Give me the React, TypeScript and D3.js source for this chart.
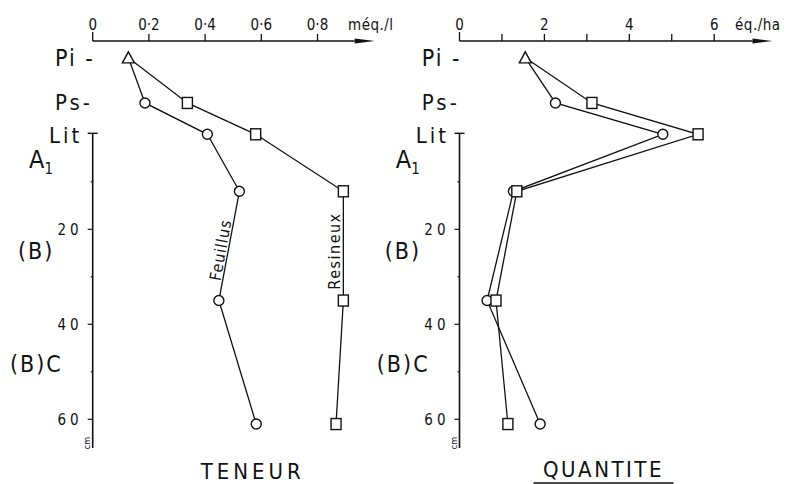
import React from "react";
import * as d3 from "d3";

// ---- data ----
const levels: (string | number)[] = ["Pi", "Ps", 0, 12, 35, 61];
const organicDepth = ["Pi", "Ps"];
const organicOffsets = [-16.1, -6.6]; // pseudo-depths (cm above litter surface)

const feuillusTeneur = [0.127, 0.186, 0.408, 0.522, 0.449, 0.582];
const resineuxTeneur = [0.127, 0.337, 0.58, 0.892, 0.892, 0.866];
const feuillusQuantite = [1.55, 2.26, 4.79, 1.27, 0.65, 1.9];
const resineuxQuantite = [1.55, 3.12, 5.62, 1.35, 0.86, 1.14];

const teneurTicks = [0, 0.2, 0.4, 0.6, 0.8];
const teneurTickLabels = ["0", "0·2", "0·4", "0·6", "0·8"];
const quantiteTicks = [0, 1, 2, 3, 4, 5, 6];
const quantiteTickLabels = ["0", "", "2", "", "4", "", "6"];
const depthTicks = [10, 20, 30, 40, 50, 60];
const depthTickLabels = ["", "20", "", "40", "", "60"];
const horizonLabels = ["Pi -", "Ps-", "Lit", "A", "(B)", "(B)C"];

const FONT = "'DejaVu Sans Condensed', 'Liberation Sans Narrow', 'Liberation Sans', sans-serif";

const yDepth = d3.scaleLinear().domain([0, 60]).range([134.3, 419.3]);
const organic = d3.scaleOrdinal<string, number>().domain(organicDepth).range(organicOffsets);
const yOf = (l: string | number) => (typeof l === "string" ? yDepth(organic(l)) : yDepth(l));

type PanelProps = {
  ox: number;
  x: d3.ScaleLinear<number, number>;
  ticks: number[];
  tickLabels: string[];
  unit: string;
  axisLen: number;
  unitX: number;
  series: number[][];
  title: string;
  underline?: boolean;
  curveLabels?: boolean;
};

function Panel({ ox, x, ticks, tickLabels, unit, axisLen, unitX, series, title, underline, curveLabels }: PanelProps) {
  const x0 = x(0);
  const axisY = 41;
  const axisEnd = ox + axisLen;
  const arrowEnd = axisEnd + 20;
  const line = d3
    .line<number>()
    .x((v) => x(v))
    .y((_, i) => yOf(levels[i]));
  const dOff = ox - 92.7;
  return (
    <g>
      {/* top axis */}
      <line x1={x0} x2={axisEnd} y1={axisY} y2={axisY} stroke="#111" strokeWidth={1.4} />
      <path d={`M${axisEnd},${axisY - 2.5} L${arrowEnd},${axisY} L${axisEnd},${axisY + 2.5} Z`} fill="#111" />
      {ticks.map((t, i) => (
        <g key={i}>
          <line x1={x(t)} x2={x(t)} y1={axisY - (i === 0 ? 9 : 7)} y2={axisY} stroke="#111" strokeWidth={1.3} />
          {tickLabels[i] && (
            <text x={x(t)} y={30} textAnchor="middle" fontSize={15} fontFamily={FONT} fill="#111">
              {tickLabels[i]}
            </text>
          )}
        </g>
      ))}
      <text x={unitX} y={30} fontSize={15} fontFamily={FONT} fill="#111" letterSpacing={0.5}>
        {unit}
      </text>
      {/* depth axis */}
      <line x1={x0} x2={x0} y1={yDepth(0) - 1} y2={448} stroke="#111" strokeWidth={1.6} />
      <line x1={x0 - 5} x2={x0 + 5} y1={yDepth(0) - 1} y2={yDepth(0) - 1} stroke="#111" strokeWidth={1.4} />
      {depthTicks.map((t, i) => (
        <g key={t}>
          <line x1={x0 - (depthTickLabels[i] ? 5 : 2)} x2={x0} y1={yDepth(t)} y2={yDepth(t)} stroke="#111" strokeWidth={1.2} />
          {depthTickLabels[i] && (
            <text x={x0 - 10} y={yDepth(t) + 6} textAnchor="end" fontSize={15} fontFamily={FONT} fill="#111" letterSpacing={4}>
              {depthTickLabels[i]}
            </text>
          )}
        </g>
      ))}
      <text
        transform={`translate(${x0 - 3},${443}) rotate(-90)`}
        textAnchor="middle"
        fontSize={9}
        fontFamily={FONT}
        fill="#111"
      >
        cm
      </text>
      {/* horizon labels */}
      <text x={55 + dOff} y={66} fontSize={23} fontFamily={FONT} fill="#111" letterSpacing={2}>
        {horizonLabels[0]}
      </text>
      <text x={55 + dOff} y={110} fontSize={22} fontFamily={FONT} fill="#111" letterSpacing={3}>
        {horizonLabels[1]}
      </text>
      <text x={49 + dOff} y={143} fontSize={22} fontFamily={FONT} fill="#111" letterSpacing={3}>
        {horizonLabels[2]}
      </text>
      <text x={29 + dOff} y={168} fontSize={25} fontFamily={FONT} fill="#111">
        {horizonLabels[3]}
        <tspan fontSize={15} dy={6}>1</tspan>
      </text>
      <text x={18 + dOff} y={259} fontSize={23} fontFamily={FONT} fill="#111" letterSpacing={2}>
        {horizonLabels[4]}
      </text>
      <text x={10 + dOff} y={372} fontSize={23} fontFamily={FONT} fill="#111" letterSpacing={2}>
        {horizonLabels[5]}
      </text>
      {/* series lines */}
      {series.map((s, k) => (
        <path key={k} d={line(s) || ""} fill="none" stroke="#111" strokeWidth={1.3} />
      ))}
      {/* markers */}
      {series.map((s, k) =>
        s.map((v, i) => {
          if (i === 0) return null;
          const cx = x(v);
          const cy = yOf(levels[i]);
          return k === 0 ? (
            <circle key={`${k}-${i}`} cx={cx} cy={cy} r={5} fill="#fff" stroke="#111" strokeWidth={1.4} />
          ) : (
            <rect key={`${k}-${i}`} x={cx - 5} y={cy - 5.5} width={10} height={11} fill="#fff" stroke="#111" strokeWidth={1.4} />
          );
        })
      )}
      {(() => {
        const cx = x(series[0][0]);
        const cy = yOf(levels[0]);
        return (
          <path
            d={`M${cx},${cy - 6} L${cx + 6},${cy + 5} L${cx - 6},${cy + 5} Z`}
            fill="#fff"
            stroke="#111"
            strokeWidth={1.4}
          />
        );
      })()}
      {curveLabels && (
        <>
          <text
            transform={`translate(${226},${251}) rotate(-80)`}
            textAnchor="middle"
            fontSize={16}
            fontFamily={FONT}
            fill="#111"
            letterSpacing={1}
          >
            Feuillus
          </text>
          <text
            transform={`translate(${340},${251}) rotate(-90)`}
            textAnchor="middle"
            fontSize={16}
            fontFamily={FONT}
            fill="#111"
            letterSpacing={1.5}
          >
            Resineux
          </text>
        </>
      )}
      {/* title */}
      <text
        x={ox + (underline ? 144 : 160)}
        y={underline ? 477 : 479}
        textAnchor="middle"
        fontSize={22}
        fontFamily={FONT}
        fill="#111"
        letterSpacing={underline ? 2.5 : 4}
      >
        {title}
      </text>
      {underline && <line x1={ox + 74} x2={ox + 214} y1={483} y2={483} stroke="#111" strokeWidth={1.3} />}
    </g>
  );
}

export default function App() {
  const xTeneur = d3.scaleLinear().domain([0, 1]).range([92.7, 373.7]);
  const xQuantite = d3.scaleLinear().domain([0, 8]).range([459.5, 799.1]);
  return (
    <svg
      width={798}
      height={484}
      style={{ position: "absolute", left: 0, top: 0, background: "#fff" }}
    >
      <rect width={798} height={484} fill="#fff" />
      <Panel
        ox={92.7}
        x={xTeneur}
        ticks={teneurTicks}
        tickLabels={teneurTickLabels}
        unit="méq./l"
        axisLen={262}
        unitX={348}
        series={[feuillusTeneur, resineuxTeneur]}
        title="TENEUR"
        curveLabels
      />
      <Panel
        ox={459.5}
        x={xQuantite}
        ticks={quantiteTicks}
        tickLabels={quantiteTickLabels}
        unit="éq./ha"
        axisLen={293}
        unitX={735}
        series={[feuillusQuantite, resineuxQuantite]}
        title="QUANTITE"
        underline
      />
    </svg>
  );
}
